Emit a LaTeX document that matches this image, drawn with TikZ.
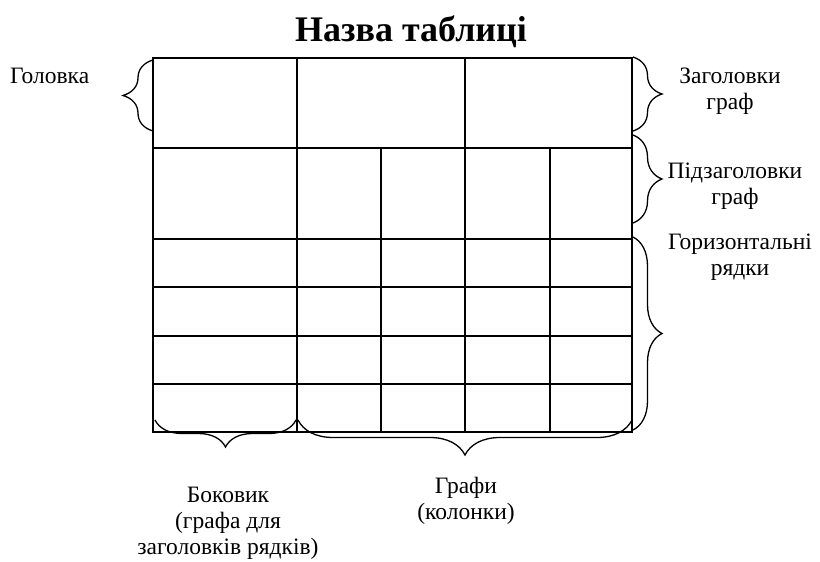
\documentclass[tikz,border=0pt]{standalone}
\usepackage{fontspec}
\setmainfont{Liberation Serif}
\usetikzlibrary{decorations.pathreplacing}
\begin{document}
\begin{tikzpicture}[x=1pt,y=-1pt,
  grid/.style={line width=2pt},
  brc/.style={line width=1.3pt,decorate,decoration={brace,amplitude=#1}},
  lbl/.style={font=\fontsize{23.5}{26}\selectfont,align=center,inner sep=0pt}]
\useasboundingbox (0,0) rectangle (820,562);
% table
\draw[grid] (153,58) rectangle (632,432);
\foreach \y in {148,239,287,336,384} \draw[grid] (153,\y) -- (632,\y);
\foreach \x in {297,465} \draw[grid] (\x,58) -- (\x,432);
\foreach \x in {381,550} \draw[grid] (\x,148) -- (\x,432);
% coordinates for braces
\coordinate (hl1) at (153,131); \coordinate (hl2) at (153,60);
\coordinate (zr1) at (633,57); \coordinate (zr2) at (633,131);
\coordinate (pr1) at (633,135); \coordinate (pr2) at (633,223);
\coordinate (gr1) at (633,237); \coordinate (gr2) at (633,430);
\coordinate (bb1) at (296,420); \coordinate (bb2) at (155,420);
\coordinate (gb1) at (632,420); \coordinate (gb2) at (298,420);
\draw[brc=30] (hl1) -- (hl2);
\draw[brc=29] (zr1) -- (zr2);
\draw[brc=29] (pr1) -- (pr2);
\draw[brc=29] (gr1) -- (gr2);
\draw[brc=27] (bb1) -- (bb2);
\draw[brc=35] (gb1) -- (gb2);
% labels
\node[inner sep=0pt,anchor=base,font=\fontsize{36}{40}\selectfont\bfseries] (title) at (411,41) {Назва таблиці};
\node[lbl,anchor=base west] (head) at (10,83) {Головка};
\node[lbl] (zag) at (730,91) {Заголовки\\граф};
\node[lbl] (pid) at (735,186) {Підзаголовки\\граф};
\node[lbl] (hor) at (740,257) {Горизонтальні\\рядки};
\node[lbl] (graf) at (466,501) {Графи\\(колонки)};
\node[lbl] (bok) at (228,523) {Боковик\\(графа для\\заголовків рядків)};
\end{tikzpicture}
\end{document}
